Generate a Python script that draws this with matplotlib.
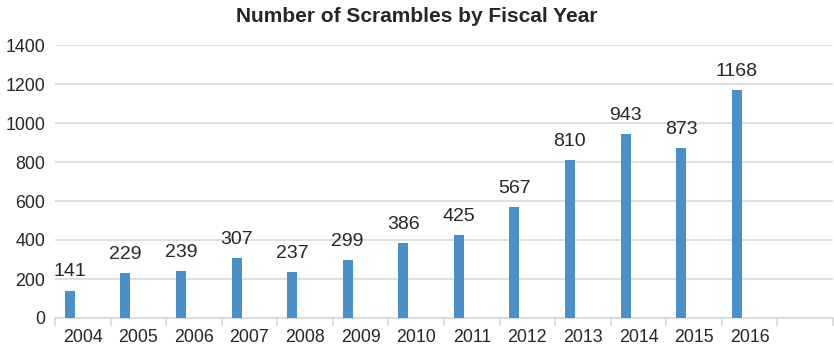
import matplotlib
matplotlib.use("Agg")
import matplotlib.pyplot as plt
import numpy as np

years = ["2004", "2005", "2006", "2007", "2008", "2009", "2010",
         "2011", "2012", "2013", "2014", "2015", "2016"]
scrambles = [141, 229, 239, 307, 237, 299, 386, 425, 567, 810, 943, 873, 1168]
yticks = [0, 200, 400, 600, 800, 1000, 1200, 1400]

plt.rcParams['font.family'] = ['Liberation Sans', 'DejaVu Sans']
txt = '#262626'
grid = '#d9d9d9'
bar_color = '#4a90c8'

fig = plt.figure(figsize=(8.34, 3.48), dpi=100)
ax = fig.add_axes([55/834, 30/348, 778/834, 273/348])

n_slots = len(years) + 1
x = np.arange(len(years))
offset = -13/55.6
width = 10/55.6
ax.bar(x + offset, scrambles, width=width, color=bar_color, zorder=3)
for xi, v in zip(x, scrambles):
    ax.text(xi + offset, v + 52, str(v), ha='center', va='bottom',
            fontsize=14, color=txt, zorder=4)

ax.set_xlim(-0.5, n_slots - 0.5)
ax.set_ylim(0, 1400)
ax.set_yticks(yticks)
ax.set_yticklabels([str(t) for t in yticks])
ax.set_xticks(x)
ax.set_xticklabels(years)
ax.set_xticks(np.arange(n_slots + 1) - 0.5, minor=True)
ax.tick_params(axis='x', which='major', length=0, labelsize=12.8, colors=txt, pad=8)
ax.tick_params(axis='x', which='minor', length=6, color=grid, width=1.2)
ax.tick_params(axis='y', length=0, labelsize=12.8, colors=txt, pad=7)
ax.yaxis.grid(True, color=grid, linewidth=1.2, zorder=0)
for s in ['left', 'right', 'top']:
    ax.spines[s].set_visible(False)
ax.spines['bottom'].set_color(grid)
ax.spines['bottom'].set_linewidth(1.2)
ax.spines['bottom'].set_zorder(2)

fig.text(417/834, 1 - 17/348, "Number of Scrambles by Fiscal Year", ha='center', va='center',
         fontsize=15, fontweight='bold', color=txt)

fig.savefig("out.png", dpi=100)
